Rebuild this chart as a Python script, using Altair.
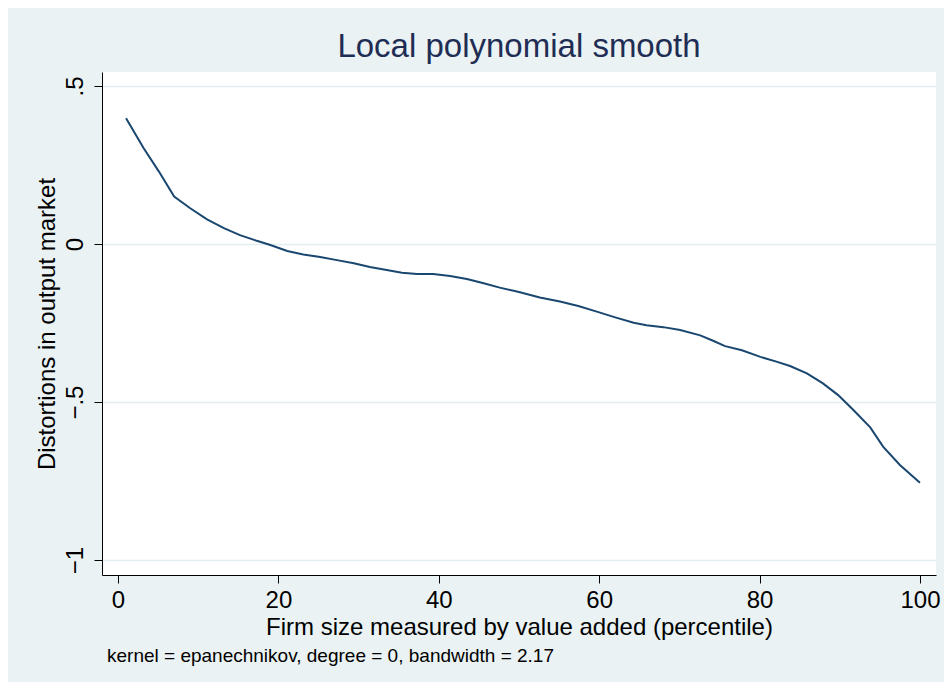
import altair as alt
import pandas as pd

# Data
percentile = [1.0, 3.2, 5.1, 7.0, 9.0, 11.1, 13.2, 15.2, 17.3, 19.0, 21.1, 23.1, 25.2, 27.3,
              29.4, 31.4, 33.5, 35.4, 37.3, 39.3, 41.4, 43.5, 45.6, 47.6, 50.0, 52.6, 55.1,
              57.4, 59.7, 62.0, 64.3, 65.9, 68.0, 70.1, 72.6, 74.2, 75.7, 77.8, 80.1, 82.1,
              83.8, 85.9, 87.9, 89.8, 91.7, 93.8, 95.4, 97.5, 100.0]
distortion = [0.398, 0.303, 0.229, 0.150, 0.113, 0.078, 0.050, 0.028, 0.010, -0.003, -0.022,
              -0.033, -0.041, -0.051, -0.061, -0.073, -0.082, -0.091, -0.095, -0.095, -0.101,
              -0.111, -0.124, -0.138, -0.152, -0.169, -0.182, -0.196, -0.214, -0.232, -0.249,
              -0.257, -0.263, -0.272, -0.289, -0.306, -0.323, -0.336, -0.357, -0.372, -0.386,
              -0.409, -0.441, -0.478, -0.525, -0.580, -0.641, -0.699, -0.755]
x_ticks = [0, 20, 40, 60, 80, 100]
y_ticks = [-1, -0.5, 0, 0.5]
title_text = "Local polynomial smooth"
x_title = "Firm size measured by value added (percentile)"
y_title = "Distortions in output market"
note_text = "kernel = epanechnikov, degree = 0, bandwidth = 2.17"

df = pd.DataFrame({"x": percentile, "y": distortion})
note_df = pd.DataFrame({"note": [note_text]})

FONT = "Liberation Sans"
BG = "#EAF2F3"

line = alt.Chart(df).mark_line(color="#1A476F", strokeWidth=2, clip=True).encode(
    x=alt.X("x:Q",
            scale=alt.Scale(domain=[-2, 102], nice=False, zero=False),
            axis=alt.Axis(values=x_ticks, format="d", title=x_title,
                          grid=False, tickSize=8, labelPadding=5,
                          titleX=417, titleY=59, titleAlign="center",
                          titleBaseline="alphabetic")),
    y=alt.Y("y:Q",
            scale=alt.Scale(domain=[-1.047, 0.544], nice=False, zero=False),
            axis=alt.Axis(values=y_ticks, title=y_title,
                          labelExpr="datum.value == 0.5 ? '.5' : datum.value == 0 ? '0' : datum.value == -0.5 ? '\u2212.5' : '\u22121'",
                          labelAngle=-90, labelAlign="center", labelBaseline="alphabetic",
                          labelPadding=12, tickSize=8,
                          grid=True, gridColor="#E4EEF0", gridWidth=1.5,
                          titleAngle=-90, titleX=-55, titleY=251.5,
                          titleAlign="center", titleBaseline="middle")),
)

note = alt.Chart(note_df).mark_text(
    align="left", baseline="alphabetic", fontSize=19, font=FONT, color="black", clip=False
).encode(
    x=alt.value(5), y=alt.value(590), text="note:N"
)

chart = alt.layer(line, note).properties(
    width=834,
    height=503,
    padding={"left": 94, "top": 64, "right": 8, "bottom": 107},
    autosize=alt.AutoSizeParams(type="none"),
    background=BG,
    title=alt.Title(title_text, fontSize=33, font=FONT, fontWeight="normal",
                    color="#1F2D55", anchor="middle", baseline="alphabetic",
                    offset=15, dy=33),
).configure_view(
    fill="white", strokeWidth=0
).configure_axis(
    labelFont=FONT, titleFont=FONT, labelFontSize=24, titleFontSize=24,
    titleFontWeight="normal", labelColor="black", titleColor="black",
    domainColor="black", tickColor="black", domainWidth=1, tickWidth=1,
    labelOverlap=False
)

chart.save("out.html", embed_options={"renderer": "svg", "actions": False})
